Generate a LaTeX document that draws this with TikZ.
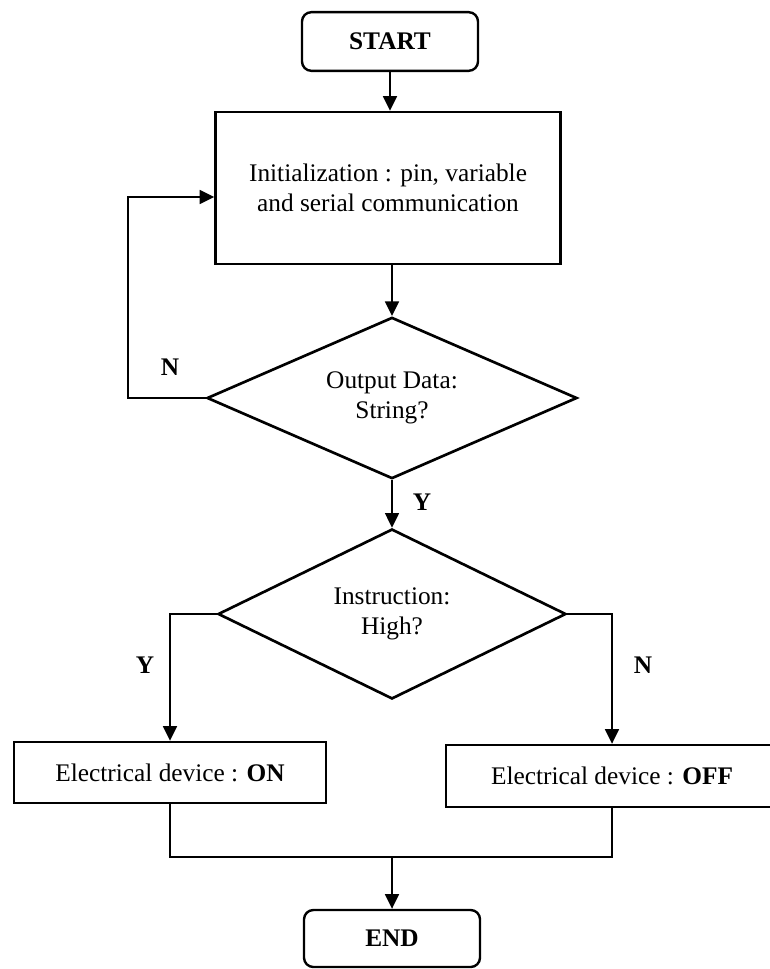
\documentclass[tikz,border=0pt]{standalone}
\usepackage{fontspec}
\setmainfont{Liberation Serif}
\usepackage{tikz}
\usetikzlibrary{shapes, arrows.meta, positioning}
\newcommand{\chartfont}{\fontsize{19}{22.5}\selectfont}
\tikzstyle{terminal} = [draw, line width=1.8pt, rectangle, rounded corners=7pt, minimum width=132pt, inner sep=0pt, font=\chartfont\bfseries]
\tikzstyle{process} = [draw, line width=1.8pt, rectangle, inner sep=0pt, align=center, font=\chartfont]
\tikzstyle{decision} = [draw, line width=2pt, diamond, aspect=2.3, inner sep=0pt, align=center, font=\chartfont]
\tikzstyle{connector} = [line width=1.3pt]
\tikzstyle{flow} = [connector, -{Triangle[length=11pt, width=10.5pt]}]
\tikzstyle{answer} = [font=\chartfont\bfseries]

\begin{document}
\begin{tikzpicture}[x=0.75pt, y=-0.75pt]
	\useasboundingbox (0,0) rectangle (769,969);
	\node [terminal, minimum height=44pt] (start) at (390,41.5) {START};
	\node [process, minimum width=258.75pt, minimum height=114pt] (init) at (388,188)
		{Initialization : pin, variable\\and serial communication};
	\node [decision, minimum width=277.5pt, minimum height=121pt] (output) at (392,398)
		{Output Data:\\String?};
	\node [decision, minimum width=261pt, minimum height=127.5pt] (high) at (392,614)
		{Instruction:\\High?};
	\node [process, minimum width=234pt, minimum height=45.75pt] (on) at (170,772.5)
		{Electrical device : \textbf{ON}};
	\node [process, minimum width=249pt, minimum height=46.5pt] (off) at (612,776)
		{Electrical device : \textbf{OFF}};
	\node [terminal, minimum height=42.75pt] (end) at (392,938.5) {END};
	\coordinate (loop) at (128,197);
	\coordinate (join) at (392,857);

	\draw [flow] (start) -- (start |- init.north);
	\draw [flow] (init.south -| output.north) -- (output.north);
	\draw [flow] (output.west) -| (loop) -- (loop -| init.west);
	\draw [flow] (output.south) -- (high.north);
	\draw [flow] (high.west) -| (on.north);
	\draw [flow] (high.east) -| (off.north);
	\draw [connector] (on.south) |- (join) -| (off.south);
	\draw [flow] (join) -- (end.north);

	\node [answer] (n1) at (170,367) {N};
	\node [answer] (y1) at (422,502) {Y};
	\node [answer] (y2) at (145,665) {Y};
	\node [answer] (n2) at (643,665) {N};
\end{tikzpicture}
\end{document}
